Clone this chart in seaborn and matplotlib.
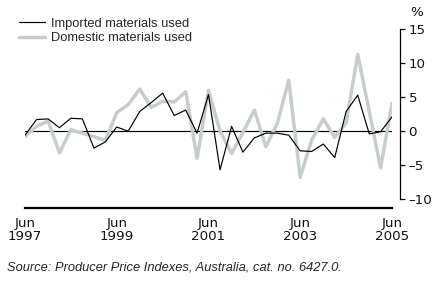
import numpy as np
import pandas as pd
import matplotlib
matplotlib.use("Agg")
import matplotlib.pyplot as plt
from matplotlib.lines import Line2D
import seaborn as sns

# quarterly percentage change, Jun 1997 - Jun 2005
quarters = pd.date_range("1997-06-30", "2005-06-30", freq="QE-DEC")

imported = [-0.6, 1.7, 1.8, 0.5, 1.9, 1.8, -2.5, -1.6, 0.6, 0.0, 2.9, 4.2, 5.6,
            2.3, 3.1, -0.3, 5.4, -5.7, 0.7, -3.1, -1.0, -0.3, -0.3, -0.6, -2.9,
            -3.0, -1.9, -3.9, 2.9, 5.3, -0.4, -0.1, 2.1]
domestic = [-0.8, 0.7, 1.5, -3.2, 0.2, -0.3, -0.8, -1.4, 2.7, 3.9, 6.2, 3.5, 4.4,
            4.3, 5.8, -4.0, 6.0, 0.0, -3.3, -0.2, 3.1, -2.3, 1.2, 7.5, -6.8,
            -1.3, 1.8, -0.9, 1.2, 11.3, 2.9, -5.4, 4.1]

x_ticks = ["1997-06-30", "1999-06-30", "2001-06-30", "2003-06-30", "2005-06-30"]
x_labels = ["Jun\n1997", "Jun\n1999", "Jun\n2001", "Jun\n2003", "Jun\n2005"]
y_ticks = [-10, -5, 0, 5, 10, 15]

df = pd.DataFrame({"quarter": quarters, "Imported materials used": imported,
                   "Domestic materials used": domestic})

sns.set_style("white")
plt.rcParams["font.family"] = ["Liberation Sans", "DejaVu Sans"]

W, H = 436, 283
fig = plt.figure(figsize=(W / 100, H / 100), dpi=100)
ax = fig.add_axes([25 / W, (H - 199) / H, 367 / W, (199 - 29.3) / H])

grey = "#c6cdcd"
sns.lineplot(data=df, x="quarter", y="Domestic materials used", ax=ax,
             color=grey, linewidth=2.5)
sns.lineplot(data=df, x="quarter", y="Imported materials used", ax=ax,
             color="black", linewidth=0.85)
ax.axhline(0, color="black", linewidth=0.85, zorder=1)

ax.set_xlim(df["quarter"].iloc[0], df["quarter"].iloc[-1])
ax.set_ylim(-10, 15)
ax.set_xlabel("")
ax.set_ylabel("")

for s in ["top", "left"]:
    ax.spines[s].set_visible(False)
ax.spines["right"].set_position(("outward", 5.8))
ax.spines["right"].set_linewidth(0.9)
ax.spines["bottom"].set_position(("outward", 6.5))
ax.spines["bottom"].set_linewidth(1.6)
for s in ["right", "bottom"]:
    ax.spines[s].set_color("black")

ax.yaxis.tick_right()
ax.set_yticks(y_ticks)
ax.set_yticklabels([("\u2013" + str(-v)) if v < 0 else str(v) for v in y_ticks],
                   fontfamily="DejaVu Sans")
ax.set_xticks(pd.to_datetime(x_ticks))
ax.set_xticklabels(x_labels, fontfamily="DejaVu Sans", linespacing=1.0)
ax.tick_params(axis="both", direction="out", length=3.6, width=0.9,
               colors="#111111", labelsize=9.6)
ax.tick_params(axis="y", pad=2.5)
ax.tick_params(axis="x", pad=3)

fig.text(417 / W, 1 - 13 / H, "%", ha="center", va="center",
         fontsize=9.6, fontfamily="DejaVu Sans", color="#111111")

handles = [Line2D([], [], color="black", linewidth=0.85),
           Line2D([], [], color=grey, linewidth=2.5)]
fig.legend(handles, ["Imported materials used", "Domestic materials used"],
           loc="upper left", bbox_to_anchor=(19 / W, 1 - 17.5 / H), frameon=False,
           fontsize=9.3, handlelength=2.05, handletextpad=0.4, labelspacing=0.22,
           borderpad=0, borderaxespad=0)

fig.text(7 / W, 1 - 267 / H,
         "Source: Producer Price Indexes, Australia, cat. no. 6427.0.",
         ha="left", va="center", fontsize=9.3, style="italic")

fig.savefig("out.png", dpi=100)
